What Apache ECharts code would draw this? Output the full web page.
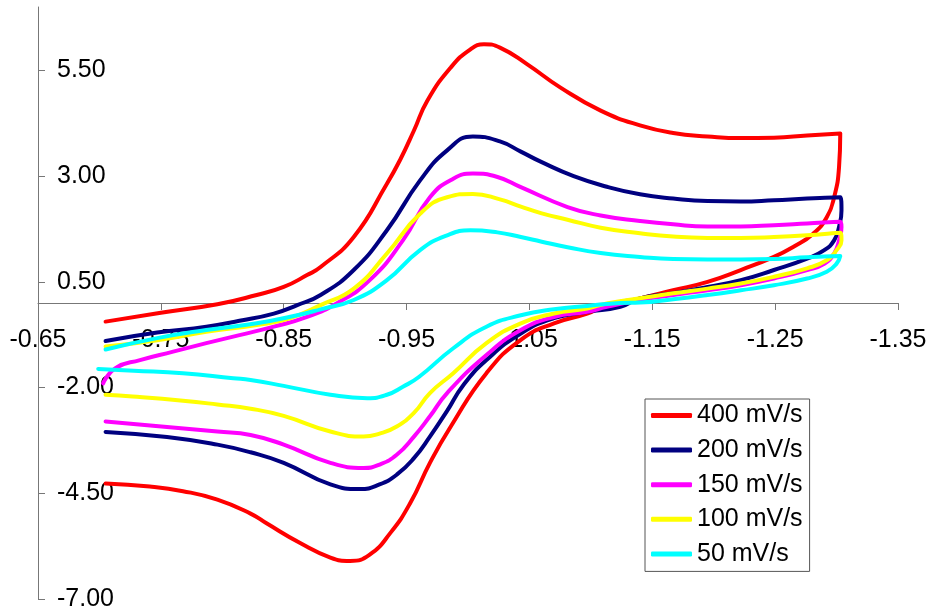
<!DOCTYPE html>
<html>
<head>
<meta charset="utf-8">
<script src="https://cdn.jsdelivr.net/npm/echarts@6/dist/echarts.min.js"></script>
<style>
  html, body { margin: 0; padding: 0; background: #fff; }
  #main { width: 929px; height: 614px; }
</style>
</head>
<body>
<div id="main"></div>
<script>
// scan rate names, legend order
const seriesNames = ['400 mV/s', '200 mV/s', '150 mV/s', '100 mV/s', '50 mV/s'];
const seriesColors = ['#ff0000', '#000080', '#ff00ff', '#ffff00', '#00ffff'];

// axis tick labels
const xTicks = [-1.35, -1.25, -1.15, -1.05, -0.95, -0.85, -0.75, -0.65];
const yTicks = [-7, -4.5, -2, 0.5, 3, 5.5];

// [potential, current], along the scan
const cv400 = [
  [-0.705, -0.44], [-0.750, -0.23], [-0.796, -0.03], [-0.828, 0.19], [-0.850, 0.38],
  [-0.869, 0.66], [-0.880, 0.85], [-0.907, 1.56], [-0.934, 2.82], [-0.945, 3.40],
  [-0.956, 4.08], [-0.967, 4.79], [-0.986, 5.57], [-1.002, 6.00], [-1.013, 6.12], [-1.026, 6.04],
  [-1.048, 5.65], [-1.075, 5.10], [-1.108, 4.55], [-1.140, 4.20], [-1.167, 4.02],
  [-1.195, 3.94], [-1.222, 3.90], [-1.249, 3.91], [-1.276, 3.96], [-1.303, 4.01],
  [-1.302, 3.21], [-1.298, 2.50], [-1.292, 2.03], [-1.281, 1.64], [-1.265, 1.33],
  [-1.249, 1.09], [-1.222, 0.78], [-1.195, 0.50], [-1.167, 0.30], [-1.140, 0.11],
  [-1.113, -0.05], [-1.097, -0.25], [-1.070, -0.48], [-1.043, -0.87], [-1.015, -1.66],
  [-0.986, -2.92], [-0.969, -3.78], [-0.953, -4.73], [-0.937, -5.43], [-0.920, -5.95],
  [-0.904, -6.10], [-0.888, -6.02], [-0.863, -5.67], [-0.836, -5.21], [-0.823, -4.98],
  [-0.796, -4.65], [-0.768, -4.45], [-0.741, -4.34], [-0.705, -4.27]
];
const cv200 = [
  [-0.705, -0.90], [-0.747, -0.70], [-0.787, -0.56], [-0.814, -0.42], [-0.842, -0.25],
  [-0.861, -0.05], [-0.880, 0.19], [-0.907, 0.78], [-0.934, 1.72], [-0.961, 2.90],
  [-0.983, 3.61], [-1.004, 3.94], [-1.026, 3.82], [-1.043, 3.58], [-1.060, 3.33],
  [-1.086, 3.00], [-1.113, 2.75], [-1.140, 2.57], [-1.167, 2.47], [-1.195, 2.41], [-1.222, 2.40],
  [-1.249, 2.43], [-1.276, 2.47], [-1.303, 2.50],
  [-1.304, 2.19], [-1.302, 1.80], [-1.298, 1.48], [-1.290, 1.25], [-1.276, 1.05],
  [-1.249, 0.78], [-1.222, 0.54], [-1.195, 0.38], [-1.167, 0.23], [-1.140, 0.11],
  [-1.124, -0.09], [-1.097, -0.21], [-1.070, -0.36], [-1.043, -0.72], [-1.015, -1.35],
  [-0.996, -1.95], [-0.983, -2.55], [-0.969, -3.16], [-0.956, -3.67], [-0.942, -4.06],
  [-0.928, -4.29], [-0.912, -4.40], [-0.888, -4.29], [-0.850, -3.78],
  [-0.823, -3.53], [-0.796, -3.35], [-0.755, -3.17], [-0.705, -3.05]
];
const cv150 = [
  [-0.703, -1.90], [-0.713, -1.54], [-0.733, -1.35], [-0.760, -1.15], [-0.787, -0.95],
  [-0.814, -0.76], [-0.842, -0.56], [-0.869, -0.33], [-0.893, -0.01], [-0.920, 0.54],
  [-0.947, 1.48], [-0.969, 2.50], [-0.988, 2.94], [-1.004, 3.06], [-1.024, 2.98],
  [-1.043, 2.74], [-1.081, 2.27], [-1.108, 2.07], [-1.140, 1.94], [-1.167, 1.86],
  [-1.195, 1.81], [-1.222, 1.81], [-1.249, 1.84], [-1.276, 1.88], [-1.303, 1.92],
  [-1.304, 1.80], [-1.302, 1.48], [-1.298, 1.17], [-1.290, 0.93], [-1.276, 0.78],
  [-1.249, 0.58], [-1.222, 0.42], [-1.195, 0.30], [-1.167, 0.19], [-1.140, 0.07],
  [-1.113, -0.09], [-1.097, -0.21], [-1.070, -0.33], [-1.043, -0.64], [-1.015, -1.23],
  [-0.983, -2.13], [-0.969, -2.68], [-0.956, -3.16], [-0.942, -3.59], [-0.928, -3.82],
  [-0.915, -3.90], [-0.888, -3.78], [-0.850, -3.35], [-0.823, -3.12],
  [-0.796, -3.04], [-0.755, -2.93], [-0.705, -2.80]
];
const cv100 = [
  [-0.705, -1.03], [-0.747, -0.88], [-0.787, -0.68], [-0.828, -0.52], [-0.855, -0.36],
  [-0.880, -0.05], [-0.907, 0.34], [-0.934, 1.17], [-0.961, 2.11], [-0.983, 2.50],
  [-1.004, 2.58], [-1.026, 2.45], [-1.043, 2.28], [-1.060, 2.12], [-1.081, 1.97],
  [-1.108, 1.78], [-1.140, 1.65], [-1.167, 1.57], [-1.195, 1.54], [-1.222, 1.54], [-1.249, 1.56],
  [-1.276, 1.60], [-1.303, 1.66],
  [-1.304, 1.48], [-1.300, 1.25], [-1.292, 1.01], [-1.276, 0.82], [-1.249, 0.62],
  [-1.222, 0.46], [-1.195, 0.34], [-1.167, 0.23], [-1.140, 0.11], [-1.113, -0.01],
  [-1.097, -0.13], [-1.070, -0.25], [-1.043, -0.48], [-1.015, -0.95], [-0.988, -1.66],
  [-0.969, -2.13], [-0.956, -2.60], [-0.942, -2.92], [-0.928, -3.09], [-0.915, -3.16],
  [-0.888, -3.04], [-0.850, -2.67], [-0.823, -2.50], [-0.796, -2.40],
  [-0.768, -2.31], [-0.727, -2.21], [-0.705, -2.17]
];
const cv50 = [
  [-0.705, -1.10], [-0.747, -0.83], [-0.787, -0.64], [-0.828, -0.48], [-0.861, -0.29],
  [-0.880, -0.15], [-0.907, 0.07], [-0.934, 0.54], [-0.961, 1.25], [-0.983, 1.60],
  [-1.002, 1.72], [-1.024, 1.67], [-1.043, 1.56], [-1.060, 1.45], [-1.081, 1.32],
  [-1.108, 1.18], [-1.140, 1.09], [-1.167, 1.04], [-1.195, 1.03], [-1.222, 1.03],
  [-1.249, 1.04], [-1.276, 1.08], [-1.303, 1.11],
  [-1.300, 0.93], [-1.292, 0.74], [-1.276, 0.58], [-1.249, 0.42], [-1.222, 0.30],
  [-1.195, 0.19], [-1.167, 0.09], [-1.140, 0.01], [-1.124, 0.00], [-1.097, -0.07],
  [-1.070, -0.15], [-1.043, -0.29], [-1.015, -0.56], [-0.988, -1.07], [-0.960, -1.75],
  [-0.947, -1.98], [-0.934, -2.17], [-0.918, -2.25], [-0.888, -2.17],
  [-0.850, -1.96], [-0.823, -1.82], [-0.809, -1.78], [-0.768, -1.66], [-0.728, -1.60],
  [-0.699, -1.56]
];
const curves = [cv400, cv200, cv150, cv100, cv50];

const font = 'Arial, "Liberation Sans", sans-serif';
const axisColor = '#777';

const chart = echarts.init(document.getElementById('main'), null, { renderer: 'canvas' });

chart.setOption({
  animation: false,
  backgroundColor: '#fff',
  grid: { left: 38, right: 31, top: 7, bottom: 15, containLabel: false, outerBoundsMode: 'none' },
  legend: {
    orient: 'vertical',
    left: 645,
    top: 399,
    padding: [4, 7, 5, 6],
    itemGap: 9.6,
    itemWidth: 41,
    itemHeight: 5,
    icon: 'roundRect',
    borderColor: '#555',
    borderWidth: 1,
    borderRadius: 0,
    backgroundColor: '#fff',
    textStyle: { fontFamily: font, fontSize: 25, lineHeight: 25, color: '#000', padding: 0 },
    data: seriesNames
  },
  xAxis: {
    type: 'value',
    min: -1.35,
    max: -0.65,
    inverse: true,
    // x axis crosses at zero current, halfway up the plot
    offset: -296,
    axisLine: { onZero: false, lineStyle: { color: axisColor, width: 1 } },
    axisTick: { length: 7, lineStyle: { color: axisColor }, customValues: xTicks },
    axisLabel: {
      customValues: xTicks,
      margin: 25,
      fontFamily: font,
      fontSize: 25,
      color: '#000',
      formatter: v => v.toFixed(2)
    },
    splitLine: { show: false }
  },
  yAxis: {
    type: 'value',
    min: -7,
    max: 7,
    axisLine: { show: true, onZero: false, lineStyle: { color: axisColor, width: 1 } },
    axisTick: { show: true, inside: true, length: 7, lineStyle: { color: axisColor }, customValues: yTicks },
    axisLabel: {
      inside: true,
      customValues: yTicks,
      margin: 19,
      fontFamily: font,
      fontSize: 25,
      color: '#000',
      formatter: v => v.toFixed(2)
    },
    splitLine: { show: false }
  },
  series: seriesNames.map((name, i) => ({
    name: name,
    type: 'line',
    data: curves[i],
    showSymbol: false,
    symbol: 'none',
    smooth: 0.5,
    color: seriesColors[i],
    lineStyle: { color: seriesColors[i], width: 4, cap: 'round', join: 'round' },
    emphasis: { disabled: true }
  }))
});
</script>
</body>
</html>
